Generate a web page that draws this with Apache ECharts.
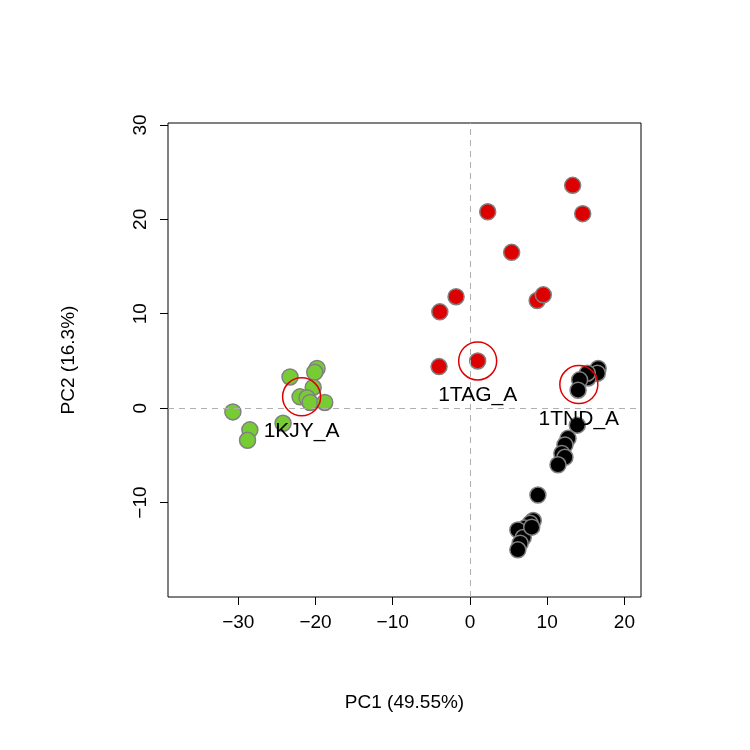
<!DOCTYPE html>
<html><head><meta charset="utf-8">
<script src="https://cdn.jsdelivr.net/npm/echarts@6/dist/echarts.min.js"></script>
<style>body{margin:0;background:#fff}#c{width:750px;height:750px}</style>
</head><body><div id="c"></div>
<script>
const redPts=[[13.3,23.6],[14.6,20.6],[2.3,20.8],[5.4,16.5],[-1.8,11.8],[-3.9,10.2],[8.7,11.4],[9.5,12.0],[-4.0,4.4],[1.0,5.0]];
const greenPts=[[-19.8,4.2],[-20.1,3.8],[-23.3,3.3],[-20.3,2.2],[-22.0,1.2],[-21.1,1.1],[-20.7,0.6],[-18.8,0.6],[-30.7,-0.4],[-24.2,-1.6],[-28.5,-2.3],[-28.8,-3.4]];
const blackPts=[[16.6,4.2],[16.5,3.7],[15.3,3.2],[15.2,3.7],[14.2,3.0],[14.0,1.9],[13.9,-1.8],[12.7,-3.2],[12.3,-3.9],[11.9,-4.8],[12.3,-5.2],[11.4,-6.0],[8.8,-9.2],[8.2,-11.9],[7.8,-12.2],[7.1,-12.7],[6.2,-12.9],[6.9,-13.7],[6.5,-14.3],[6.2,-15.0],[8.0,-12.6]];
const refPts=[[-21.8,1.2,'1KJY_A'],[1.0,5.0,'1TAG_A'],[14.1,2.5,'1TND_A']];
const xTicks=[-30,-20,-10,0,10,20];
const yTicks=[-10,0,10,20,30];
const F='Liberation Sans, Arial, sans-serif';
const pt=(data,color)=>({type:'scatter',data,symbolSize:16,itemStyle:{color,borderColor:'#808080',borderWidth:1.5,opacity:1},z:3});
const ch=echarts.init(document.getElementById('c'));
ch.setOption({
 animation:false,
 grid:{left:168,right:109,top:123,bottom:153,show:true,borderColor:'#000',borderWidth:1,backgroundColor:'transparent'},
 xAxis:{type:'value',min:-39.1,max:22.15,splitLine:{show:false},axisLine:{show:false,onZero:false},
  axisTick:{show:true,customValues:xTicks,length:8,lineStyle:{color:'#000'}},
  axisLabel:{customValues:xTicks,color:'#000',fontSize:19,fontFamily:F,margin:16,formatter:v=>String(v).replace('-','\u2212')},
  name:'PC1 (49.55%)',nameLocation:'middle',nameGap:96,nameTextStyle:{color:'#000',fontSize:19,fontFamily:F}},
 yAxis:{type:'value',min:-20,max:30.2,splitLine:{show:false},axisLine:{show:false,onZero:false},
  axisTick:{show:true,customValues:yTicks,length:8,lineStyle:{color:'#000'}},
  axisLabel:{customValues:yTicks,rotate:90,color:'#000',fontSize:19,fontFamily:F,margin:18,formatter:v=>String(v).replace('-','\u2212')},
  name:'PC2 (16.3%)',nameLocation:'middle',nameGap:90,nameRotate:90,nameTextStyle:{color:'#000',fontSize:19,fontFamily:F}},
 series:[
  {type:'scatter',data:[],z:1,markLine:{silent:true,symbol:'none',label:{show:false},lineStyle:{color:'#b0b0b0',type:[6,5],width:1},data:[{xAxis:0},{yAxis:0}]}},
  pt(redPts,'#dd0000'),pt(greenPts,'#77cc33'),pt(blackPts,'#000000'),
  {type:'scatter',data:refPts.map(p=>({value:[p[0],p[1]],name:p[2]})),symbolSize:38,z:5,
   itemStyle:{color:'rgba(0,0,0,0)',borderColor:'#dd0000',borderWidth:1.5,opacity:1},
   label:{show:true,position:'bottom',distance:4,formatter:'{b}',color:'#000',opacity:1,textBorderWidth:0,fontSize:21,fontFamily:F}}
 ]
});
</script></body></html>
